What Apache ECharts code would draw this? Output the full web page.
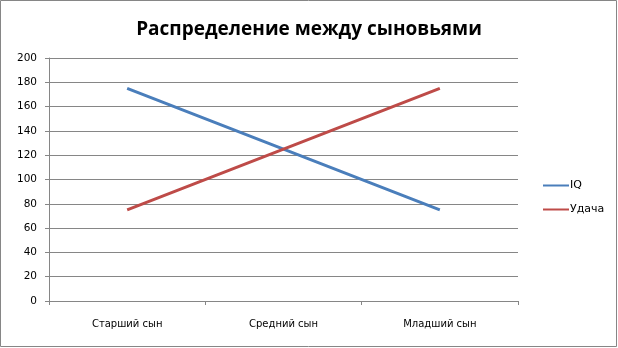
<!DOCTYPE html>
<html><head><meta charset="utf-8">
<script src="https://cdn.jsdelivr.net/npm/echarts@6/dist/echarts.min.js"></script>
<style>html,body{margin:0;padding:0;background:#fff}#c{width:618px;height:348px}</style>
</head><body><div id="c"></div>
<script>
const categories = ['Старший сын', 'Средний сын', 'Младший сын'];
const iqValues = [175, 125, 75];
const luckValues = [75, 125, 175];
const yTicks = [0, 20, 40, 60, 80, 100, 120, 140, 160, 180, 200];

const chart = echarts.init(document.getElementById('c'), null, {renderer: 'canvas'});
chart.setOption({
  animation: false,
  backgroundColor: '#fff',
  title: {
    text: 'Распределение между сыновьями',
    left: 'center', top: 15,
    textStyle: {fontFamily: 'Open Sans', fontWeight: 'bold', fontSize: 19, color: '#000'}
  },
  legend: {
    orient: 'vertical', left: 538, top: 175, itemGap: 13,
    itemWidth: 26, itemHeight: 10,
    icon: 'path://M0,4L26,4L26,6L0,6Z',
    textStyle: {fontFamily: 'DejaVu Sans', fontSize: 11, color: '#000', padding: [0,0,0,-4]},
    data: ['IQ', 'Удача']
  },
  grid: {left: 49, right: 100, top: 58, bottom: 47, containLabel: false},
  xAxis: {
    type: 'category', data: categories, boundaryGap: true,
    axisLine: {lineStyle: {color: '#868686', width: 1}},
    axisTick: {show: true, length: 4, lineStyle: {color: '#868686'}},
    axisLabel: {fontFamily: 'DejaVu Sans', fontSize: 10, color: '#000', margin: 18}
  },
  yAxis: {
    type: 'value', min: 0, max: 200, interval: 20,
    axisLine: {show: true, lineStyle: {color: '#868686'}},
    axisTick: {show: true, length: 4, lineStyle: {color: '#868686'}},
    splitLine: {lineStyle: {color: '#868686', width: 1}},
    axisLabel: {fontFamily: 'DejaVu Sans', fontSize: 10.5, color: '#000', margin: 12,
      formatter: v => yTicks.includes(v) ? String(v) : ''}
  },
  series: [
    {name: 'IQ', type: 'line', data: iqValues, symbol: 'none',
      lineStyle: {color: '#4a7ebb', width: 3}, itemStyle: {color: '#4a7ebb'}},
    {name: 'Удача', type: 'line', data: luckValues, symbol: 'none',
      lineStyle: {color: '#be4b48', width: 3}, itemStyle: {color: '#be4b48'}}
  ],
  graphic: [{type: 'rect', shape: {x: 0.5, y: 0.5, width: 616, height: 346},
    style: {fill: 'none', stroke: '#868686', lineWidth: 1}, silent: true}]
});
</script></body></html>
